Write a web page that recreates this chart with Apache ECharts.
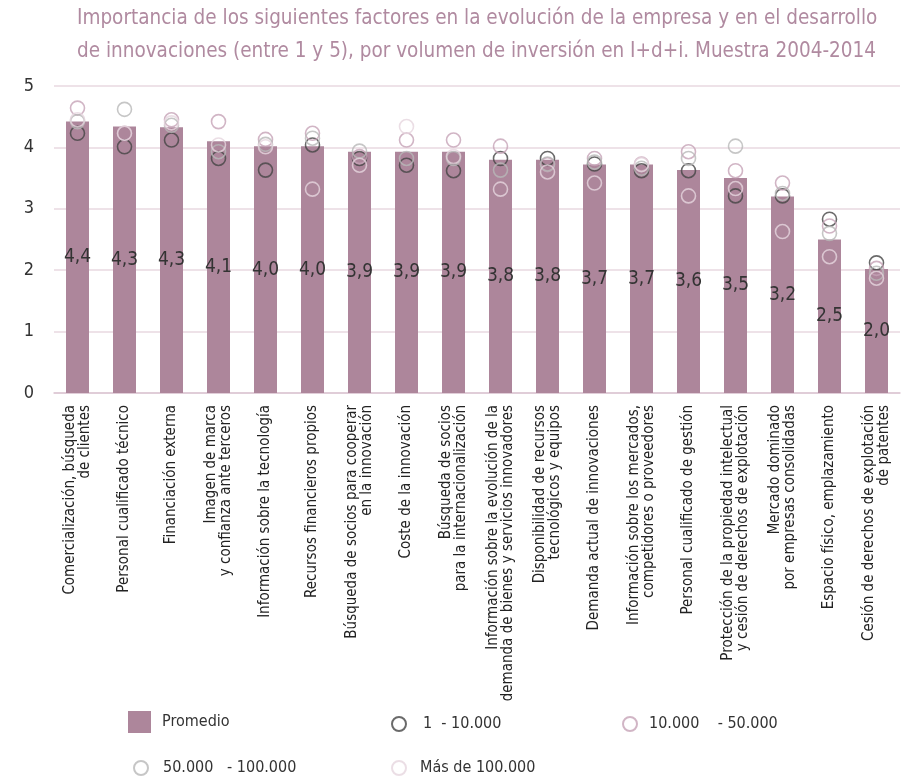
<!DOCTYPE html>
<html>
<head>
<meta charset="utf-8">
<script src="https://cdn.jsdelivr.net/npm/echarts@6/dist/echarts.min.js"></script>
<style>
  html, body { margin: 0; padding: 0; background: #fff; }
  #chart { width: 906px; height: 776px; }
</style>
</head>
<body>
<div id="chart"></div>
<script>
// categorías (eje x)
const categorias = [
  'Comercialización, búsqueda\nde clientes',
  'Personal cualificado técnico',
  'Financiación externa',
  'Imagen de marca\ny confianza ante terceros',
  'Información sobre la tecnología',
  'Recursos financieros propios',
  'Búsqueda de socios para cooperar\nen la innovación',
  'Coste de la innovación',
  'Búsqueda de socios\npara la internacionalización',
  'Información sobre la evolución de la\ndemanda de bienes y servicios innovadores',
  'Disponibilidad de recursos\ntecnológicos y equipos',
  'Demanda actual de innovaciones',
  'Información sobre los mercados,\ncompetidores o proveedores',
  'Personal cualificado de gestión',
  'Protección de la propiedad intelectual\ny cesión de derechos de explotación',
  'Mercado dominado\npor empresas consolidadas',
  'Espacio físico, emplazamiento',
  'Cesión de derechos de explotación\nde patentes',
];

const promedio = [4.42, 4.34, 4.33, 4.1, 4.02, 4.02, 3.93, 3.93, 3.93, 3.8, 3.8, 3.72, 3.72, 3.63, 3.5, 3.2, 2.5, 2.02];
const tramo1 = [4.23, 4.01, 4.12, 3.82, 3.63, 4.04, 3.82, 3.71, 3.62, 3.82, 3.82, 3.73, 3.62, 3.62, 3.21, 3.21, 2.83, 2.12];
const tramo2 = [4.64, 4.23, 4.45, 4.42, 4.13, 4.23, 3.85, 4.12, 4.12, 4.02, 3.72, 3.82, 3.73, 3.93, 3.62, 3.42, 2.72, 2.03];
const tramo3 = [4.42, 4.62, 4.36, 3.93, 4.05, 4.15, 3.94, 3.82, 3.82, 3.63, 3.73, 3.76, 3.66, 3.82, 4.02, 3.25, 2.6, 1.95];
const tramo4 = [4.45, 4.23, 4.4, 4.04, 4.01, 3.32, 3.71, 4.34, 3.85, 3.32, 3.6, 3.42, 3.72, 3.21, 3.33, 2.63, 2.22, 1.87];
const yTicks = [0, 1, 2, 3, 4, 5];

const fuente = '"DejaVu Sans Condensed", "Liberation Sans Narrow", sans-serif';
const nombres = ['Promedio', '1  - 10.000', '10.000    - 50.000', '50.000   - 100.000', 'Más de 100.000'];

const chart = echarts.init(document.getElementById('chart'));

function circulo(name, data, color) {
  return {
    name: name,
    type: 'scatter',
    data: data,
    symbol: 'circle',
    symbolSize: 14,
    itemStyle: { color: 'rgba(0,0,0,0)', borderColor: color, borderWidth: 1.6 },
    emphasis: { disabled: true },
    z: 3,
  };
}

function leyenda(name, left, top, w, h, pad) {
  return {
    data: [name],
    left: left,
    top: top,
    padding: 0,
    itemWidth: w,
    itemHeight: h,
    itemGap: 0,
    icon: name === 'Promedio' ? 'rect' : undefined,
    textStyle: { fontFamily: fuente, fontSize: 16, color: '#333', padding: [0, 0, 0, pad] },
    selectedMode: false,
  };
}

chart.setOption({
  animation: false,
  textStyle: { fontFamily: fuente },
  title: {
    text: 'Importancia de los siguientes factores en la evolución de la empresa y en el desarrollo\nde innovaciones (entre 1 y 5), por volumen de inversión en I+d+i. Muestra 2004-2014',
    left: 72,
    top: -3,
    textStyle: { fontFamily: fuente, fontSize: 20.5, fontWeight: 'normal', color: '#b08aa0', lineHeight: 33 },
  },
  legend: [
    leyenda(nombres[0], 128, 711, 23, 22, 6),
    leyenda(nombres[1], 391, 716, 14, 14, 12),
    leyenda(nombres[2], 622, 716, 14, 14, 7),
    leyenda(nombres[3], 133, 760, 14, 14, 10),
    leyenda(nombres[4], 391, 760, 14, 14, 9),
  ],
  grid: { left: 54, right: 6, top: 86, bottom: 383 },
  xAxis: {
    type: 'category',
    data: categorias,
    axisLine: { lineStyle: { color: '#dcc6d2', width: 1.5 } },
    axisTick: { show: false },
    axisLabel: {
      interval: 0,
      rotate: 90,
      margin: 12,
      fontFamily: fuente,
      fontSize: 15,
      color: '#222',
      lineHeight: 15,
    },
  },
  yAxis: {
    type: 'value',
    min: yTicks[0],
    max: yTicks[yTicks.length - 1],
    interval: 1,
    axisLine: { show: false },
    axisTick: { show: false },
    splitLine: { lineStyle: { color: '#e8d8e1', width: 1.5 } },
    axisLabel: { fontFamily: fuente, fontSize: 18, color: '#333', margin: 20 },
  },
  series: [
    {
      name: nombres[0],
      type: 'bar',
      data: promedio,
      barWidth: 23,
      itemStyle: { color: '#ad869b' },
      label: {
        show: true,
        position: 'inside',
        fontFamily: fuente,
        fontSize: 19,
        color: '#333',
        formatter: (p) => p.value.toFixed(1).replace('.', ','),
      },
      emphasis: { disabled: true },
    },
    circulo(nombres[1], tramo1, '#454545'),
    circulo(nombres[2], tramo2, '#c6a3b7'),
    circulo(nombres[3], tramo3, '#b8b8b8'),
    circulo(nombres[4], tramo4, '#e6d6df'),
  ],
});
</script>
</body>
</html>
